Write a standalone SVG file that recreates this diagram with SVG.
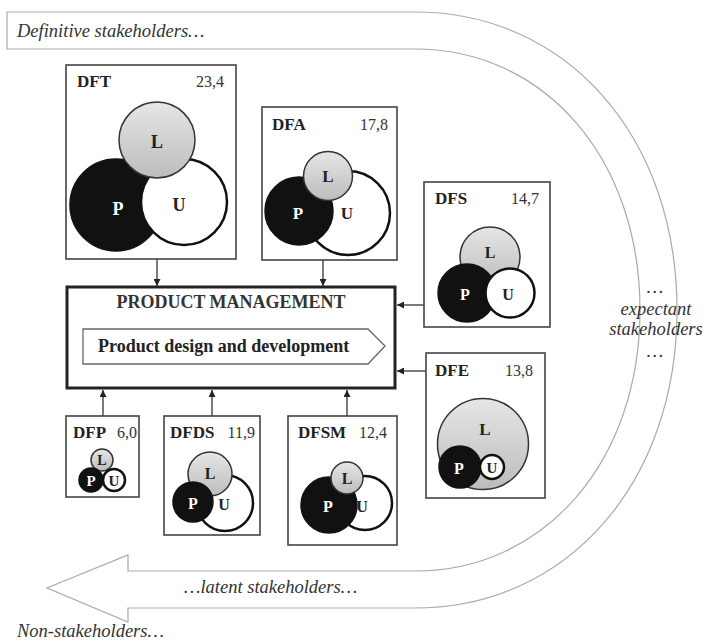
<svg xmlns="http://www.w3.org/2000/svg" width="703" height="643" viewBox="0 0 703 643">
<style>
.band{fill:#fff;stroke:#aaa;stroke-width:1.2}
.it{font-family:"Liberation Serif",serif;font-style:italic;font-size:18.5px;fill:#333}
.box{fill:#fff;stroke:#444;stroke-width:1.6}
.lab{font-family:"Liberation Serif",serif;font-weight:bold;font-size:17px;fill:#222}
.num{font-family:"Liberation Serif",serif;font-size:16px;fill:#333;text-anchor:end}
.cL{fill:url(#gL);stroke:#333;stroke-width:1.5}
.cP{fill:#111;stroke:#111;stroke-width:1.5}
.cU{fill:#fff;stroke:#111;stroke-width:2.5}
.let{font-family:"Liberation Serif",serif;font-weight:bold;text-anchor:middle;dominant-baseline:central;fill:#222}
.w{fill:#fff}
.con{stroke:#222;stroke-width:1.2;fill:none;marker-end:url(#ah)}
</style>
<defs>
<linearGradient id="gL" x1="0" y1="0" x2="0" y2="1">
<stop offset="0" stop-color="#e6e6e6"/>
<stop offset="1" stop-color="#bcbcbc"/>
</linearGradient>
<marker id="ah" viewBox="0 0 10 10" refX="10" refY="5" markerWidth="7" markerHeight="7" markerUnits="userSpaceOnUse" orient="auto">
<path d="M0,0 L10,5 L0,10 z" fill="#222"/>
</marker>
</defs>

<g id="flow">
<path class="band" d="M7,12 H415 C567,12 677,137 677,310 C677,483 567,608 415,608 H128 V622 L47,588 L128,555 V571 H415 C545,571 640,461 640,310 C640,159 545,49 415,49 H7 Z"/>
<text class="it" x="17" y="37">Definitive stakeholders…</text>
<text class="it" x="655" y="293" text-anchor="middle">…</text>
<text class="it" x="656" y="315" text-anchor="middle">expectant</text>
<text class="it" x="656" y="335" text-anchor="middle">stakeholders</text>
<text class="it" x="655" y="357" text-anchor="middle">…</text>
<text class="it" x="184" y="593">…latent stakeholders…</text>
<text class="it" x="17" y="637">Non-stakeholders…</text>
</g>

<g id="connectors">
<line class="con" x1="157" y1="259" x2="157" y2="286"/>
<line class="con" x1="323" y1="260" x2="323" y2="286"/>
<line class="con" x1="424" y1="305" x2="397" y2="305"/>
<line class="con" x1="426" y1="371" x2="397" y2="371"/>
<line class="con" x1="103" y1="416" x2="103" y2="390"/>
<line class="con" x1="212" y1="416" x2="212" y2="390"/>
<line class="con" x1="347" y1="416" x2="347" y2="390"/>
</g>

<g id="pm">
<rect x="67" y="287" width="328" height="101" fill="#fff" stroke="#222" stroke-width="3"/>
<text x="231" y="308" text-anchor="middle" style="font-family:'Liberation Serif',serif;font-weight:bold;font-size:18px;fill:#333">PRODUCT MANAGEMENT</text>
<path d="M83,329 H368 L385,346 L368,364 H83 Z" fill="#fff" stroke="#666" stroke-width="1.3"/>
<text x="98" y="352" style="font-family:'Liberation Serif',serif;font-weight:bold;font-size:18px;fill:#222">Product design and development</text>
</g>

<g id="dft">
<rect class="box" x="66" y="65" width="170" height="194"/>
<text class="lab" x="77" y="87">DFT</text>
<text class="num" x="224" y="87">23,4</text>
<circle class="cP" cx="116" cy="205" r="46"/>
<circle class="cU" cx="184" cy="202" r="43"/>
<circle class="cL" cx="157" cy="140" r="38"/>
<text class="let w" x="118" y="209" font-size="18">P</text>
<text class="let" x="179" y="205" font-size="18">U</text>
<text class="let" x="157" y="142" font-size="18">L</text>
</g>

<g id="dfa">
<rect class="box" x="262" y="107" width="135" height="153"/>
<text class="lab" x="272" y="130">DFA</text>
<text class="num" x="388" y="130">17,8</text>
<circle class="cU" cx="348" cy="213" r="42"/>
<circle class="cP" cx="299" cy="211" r="34"/>
<circle class="cL" cx="328" cy="176" r="24.5"/>
<text class="let w" x="298" y="213" font-size="17">P</text>
<text class="let" x="347" y="213" font-size="17">U</text>
<text class="let" x="328" y="176" font-size="17">L</text>
</g>

<g id="dfs">
<rect class="box" x="424" y="182" width="126" height="145"/>
<text class="lab" x="435" y="204">DFS</text>
<text class="num" x="539" y="204">14,7</text>
<circle class="cL" cx="490" cy="257" r="30"/>
<circle class="cP" cx="467" cy="293" r="29"/>
<circle class="cU" cx="510" cy="293" r="24.5"/>
<text class="let" x="490" y="252" font-size="16">L</text>
<text class="let w" x="465" y="294" font-size="16">P</text>
<text class="let" x="508" y="294" font-size="16">U</text>
</g>

<g id="dfe">
<rect class="box" x="426" y="353" width="119" height="145"/>
<text class="lab" x="435" y="376">DFE</text>
<text class="num" x="533" y="376">13,8</text>
<circle class="cL" cx="483" cy="444" r="45.5"/>
<circle class="cP" cx="460" cy="467" r="21"/>
<circle class="cU" cx="492" cy="467" r="12"/>
<text class="let" x="485" y="429" font-size="17">L</text>
<text class="let w" x="459" y="468" font-size="16">P</text>
<text class="let" x="492" y="468" font-size="15">U</text>
</g>

<g id="dfp">
<rect class="box" x="66" y="416" width="73" height="81"/>
<text class="lab" x="73" y="438">DFP</text>
<text class="num" x="137" y="438">6,0</text>
<circle class="cL" cx="102" cy="460" r="11"/>
<circle class="cP" cx="91" cy="480" r="12"/>
<circle class="cU" cx="114" cy="480" r="11"/>
<text class="let" x="102" y="460" font-size="14">L</text>
<text class="let w" x="91" y="481" font-size="15">P</text>
<text class="let" x="114" y="481" font-size="15">U</text>
</g>

<g id="dfds">
<rect class="box" x="164" y="416" width="96" height="119"/>
<text class="lab" x="170" y="438">DFDS</text>
<text class="num" x="255" y="438">11,9</text>
<circle class="cU" cx="225" cy="503" r="28"/>
<circle class="cL" cx="210" cy="474" r="22"/>
<circle class="cP" cx="193" cy="502" r="20"/>
<text class="let" x="210" y="473" font-size="16">L</text>
<text class="let w" x="193" y="503" font-size="16">P</text>
<text class="let" x="224" y="504" font-size="16">U</text>
</g>

<g id="dfsm">
<rect class="box" x="288" y="416" width="109" height="129"/>
<text class="lab" x="298" y="438">DFSM</text>
<text class="num" x="387" y="438">12,4</text>
<circle class="cU" cx="365" cy="503" r="27"/>
<circle class="cP" cx="329" cy="505" r="28"/>
<circle class="cL" cx="347" cy="478" r="16"/>
<text class="let" x="347" y="478" font-size="16">L</text>
<text class="let w" x="328" y="506" font-size="16">P</text>
<text class="let" x="362" y="506" font-size="16">U</text>
</g>
</svg>
